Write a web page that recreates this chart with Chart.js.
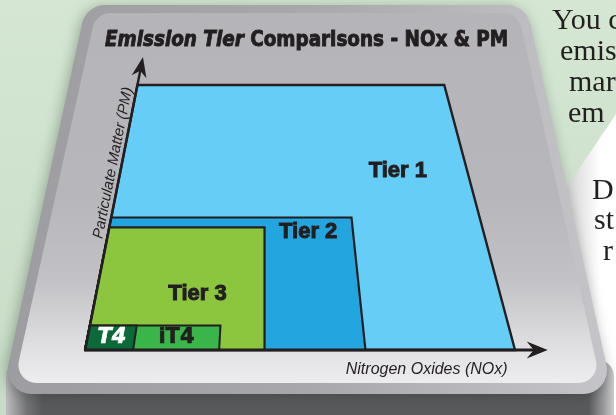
<!DOCTYPE html>
<html>
<head>
<meta charset="utf-8">
<title>Emission Tier Comparisons - NOx &amp; PM</title>
<script src="https://cdn.jsdelivr.net/npm/chart.js@4.4.1/dist/chart.umd.min.js"></script>
<style>
  html, body { margin: 0; padding: 0; background: #cfe3ce; overflow: hidden; }
  #chart { display: block; }
</style>
</head>
<body>
<canvas id="chart" width="616" height="415"></canvas>
<script>
// --- données (unités arbitraires) ---
const tiers = ["Tier 1", "Tier 2", "Tier 3", "iT4", "T4"];
const noxLimits = [9.2, 6.0, 3.83, 2.87, 1.03];
const pmLimits = [0.54, 0.27, 0.25, 0.05, 0.05];
const titleItalic = "Emission Tier";
const titleRest = "Comparisons - NOx & PM";
const xAxisTitle = "Nitrogen Oxides (NOx)";
const yAxisTitle = "Particulate Matter (PM)";
const sideLines = ["You c", "emis", "mar", "em"];
const sideLines2 = ["D", "st", "r"];

// --- mise en page ---
const W = 616, H = 415;
const ORIGIN = { x: 85, y: 350 };        // pixel of NOx=0, PM=0
const PX_PER_NOX = 46.74;
const PX_PER_PM = 490.7;
const VANISH = { nox: 3.915, pm: 1.885 }; // point de fuite (perspective)
const NOX_AXIS_END = 9.9;
const PM_AXIS_END = 0.597;

const tierStyle = [
  { fill: "#66cdf6", border: 2.4, label: [7.36, 0.365], font: 'bold 22px "Liberation Sans", Arial', color: "#231f20", stroke: 1 },
  { fill: "#23a6df", border: 2.2, label: [4.9, 0.24], font: 'bold 22px "Liberation Sans", Arial', color: "#231f20", stroke: 1 },
  { fill: "#8cc63f", border: 2.2, label: [2.31, 0.114], font: 'bold 22px "Liberation Sans", Arial', color: "#231f20", stroke: 1 },
  { fill: "#3ab54a", border: 2, label: [1.93, 0.026], font: 'bold 21px "DejaVu Sans"', color: "#231f20", stroke: 0.6 },
  { fill: "#0b6a38", border: 2, label: [0.53, 0.025], font: 'italic bold 21px "DejaVu Sans"', color: "#ffffff", stroke: 0.6 }
];

// projection en perspective (un point de fuite), en unités de données
function project(nox, pm) {
  const f = (VANISH.pm - pm) / VANISH.pm;
  return { x: VANISH.nox + (nox - VANISH.nox) * f, y: pm };
}

function boxPoints(nox, pm) {
  return [[0, 0], [nox, 0], [nox, pm], [0, pm], [0, 0]].map(p => project(p[0], p[1]));
}

function roundedQuad(ctx, pts, r) {
  const n = pts.length;
  const s = [(pts[n - 1][0] + pts[0][0]) / 2, (pts[n - 1][1] + pts[0][1]) / 2];
  ctx.beginPath();
  ctx.moveTo(s[0], s[1]);
  for (let i = 0; i < n; i++) {
    const p = pts[i], q = pts[(i + 1) % n];
    ctx.arcTo(p[0], p[1], q[0], q[1], r);
  }
  ctx.closePath();
}

// fond : papier vert, page blanche, socle gris, titre
const backdrop = {
  id: "backdrop",
  beforeDraw(chart) {
    const ctx = chart.ctx;
    ctx.save();

    let g = ctx.createLinearGradient(0, 0, 0, H);
    g.addColorStop(0, "#d5e7d3");
    g.addColorStop(1, "#c7dcc6");
    ctx.fillStyle = g;
    ctx.fillRect(0, 0, W, H);

    // page blanche à droite, ombrée le long du socle
    g = ctx.createLinearGradient(566, 0, 600, 0);
    g.addColorStop(0, "#d2d2d2");
    g.addColorStop(1, "#ffffff");
    ctx.fillStyle = g;
    ctx.beginPath();
    ctx.moveTo(616, 114);
    ctx.lineTo(556, 203);
    ctx.lineTo(556, 415);
    ctx.lineTo(616, 415);
    ctx.closePath();
    ctx.fill();

    // texte de l'article (coupé au bord)
    ctx.fillStyle = "#231f20";
    ctx.font = '30px "Liberation Serif", serif';
    ctx.textBaseline = "alphabetic";
    const xs = [552, 560, 569, 568], ys = [29, 60, 91, 122];
    sideLines.forEach((t, i) => ctx.fillText(t, xs[i], ys[i]));
    const xs2 = [592, 594, 603], ys2 = [199, 229, 260];
    sideLines2.forEach((t, i) => ctx.fillText(t, xs2[i], ys2[i]));

    // face avant du socle
    g = ctx.createLinearGradient(6, 0, 616, 0);
    g.addColorStop(0, "#bdbdc0");
    g.addColorStop(0.035, "#727274");
    g.addColorStop(0.06, "#58595b");
    g.addColorStop(0.955, "#58595b");
    g.addColorStop(0.98, "#9a9a9d");
    g.addColorStop(1, "#d6d6d8");
    ctx.fillStyle = g;
    roundedQuad(ctx, [[6, 360], [614, 360], [614, 445], [6, 445]], 16);
    ctx.fill();

    // socle (biseau) avec ombre
    ctx.save();
    ctx.shadowColor = "rgba(30,50,30,0.35)";
    ctx.shadowBlur = 14;
    ctx.shadowOffsetX = -2;
    ctx.shadowOffsetY = 2;
    g = ctx.createLinearGradient(0, 0, W, 0);
    g.addColorStop(0, "#9c9ca1");
    g.addColorStop(0.5, "#a7a7ac");
    g.addColorStop(1, "#c6c6ca");
    ctx.fillStyle = g;
    roundedQuad(ctx, [[86, 5], [526, 5], [613, 394], [2, 394]], 24);
    ctx.fill();
    ctx.restore();

    // face supérieure
    g = ctx.createLinearGradient(0, 13, 0, 383);
    g.addColorStop(0, "#b4b4b9");
    g.addColorStop(0.5, "#b6b6bb");
    g.addColorStop(0.72, "#c2c2c6");
    g.addColorStop(0.88, "#dcdcdf");
    g.addColorStop(1, "#ededef");
    ctx.fillStyle = g;
    roundedQuad(ctx, [[96, 13], [518, 13], [601, 383], [14, 383]], 18);
    ctx.fill();

    // titre
    const f1 = 'italic bold 22px "DejaVu Sans Condensed", "DejaVu Sans"';
    const f2 = 'bold 22px "DejaVu Sans Condensed", "DejaVu Sans"';
    ctx.font = f1;
    const w1 = ctx.measureText(titleItalic + " ").width;
    ctx.font = f2;
    const w2 = ctx.measureText(titleRest).width;
    const k = 403 / (w1 + w2);
    ctx.translate(105, 45.7);
    ctx.scale(k, 1);
    ctx.fillStyle = "#231f20";
    ctx.strokeStyle = "#231f20";
    ctx.lineWidth = 0.9;
    ctx.font = f1;
    ctx.fillText(titleItalic + " ", 0, 0);
    ctx.strokeText(titleItalic + " ", 0, 0);
    ctx.font = f2;
    ctx.fillText(titleRest, w1, 0);
    ctx.strokeText(titleRest, w1, 0);

    ctx.restore();
  }
};

function arrowHead(ctx, tip, u, len, hw, notch) {
  const n = [-u[1], u[0]];
  ctx.beginPath();
  ctx.moveTo(tip[0], tip[1]);
  ctx.lineTo(tip[0] - u[0] * len + n[0] * hw, tip[1] - u[1] * len + n[1] * hw);
  ctx.lineTo(tip[0] - u[0] * (len - notch), tip[1] - u[1] * (len - notch));
  ctx.lineTo(tip[0] - u[0] * len - n[0] * hw, tip[1] - u[1] * len - n[1] * hw);
  ctx.closePath();
  ctx.fill();
}

// axes, flèches et étiquettes
const overlay = {
  id: "overlay",
  afterDatasetsDraw(chart) {
    const { ctx, scales: { x, y } } = chart;
    const px = (nox, pm) => {
      const p = project(nox, pm);
      return [x.getPixelForValue(p.x), y.getPixelForValue(p.y)];
    };
    ctx.save();
    ctx.strokeStyle = "#231f20";
    ctx.fillStyle = "#231f20";

    const o = px(0, 0);
    const xe = px(NOX_AXIS_END, 0);
    const ye = px(0, PM_AXIS_END);

    // axe des NOx
    ctx.lineWidth = 3;
    ctx.beginPath();
    ctx.moveTo(o[0] - 1, o[1]);
    ctx.lineTo(xe[0] - 12, xe[1]);
    ctx.stroke();
    arrowHead(ctx, xe, [1, 0], 21, 8.5, 7);

    // axe des PM
    const dx = ye[0] - o[0], dy = ye[1] - o[1];
    const len = Math.hypot(dx, dy);
    const u = [dx / len, dy / len];
    ctx.lineWidth = 2.4;
    ctx.beginPath();
    ctx.moveTo(o[0], o[1] + 1);
    ctx.lineTo(ye[0] - u[0] * 12, ye[1] - u[1] * 12);
    ctx.stroke();
    arrowHead(ctx, ye, u, 20, 7.5, 6);

    // étiquettes des niveaux
    ctx.textAlign = "center";
    ctx.textBaseline = "middle";
    tiers.forEach((name, i) => {
      const s = tierStyle[i];
      const p = px(s.label[0], s.label[1]);
      ctx.font = s.font;
      ctx.fillStyle = s.color;
      ctx.strokeStyle = s.color;
      ctx.lineWidth = s.stroke;
      ctx.fillText(name, p[0], p[1]);
      ctx.strokeText(name, p[0], p[1]);
    });

    // titres des axes
    ctx.fillStyle = "#231f20";
    ctx.font = 'italic 16px "Liberation Sans", Arial';
    ctx.textAlign = "center";
    ctx.textBaseline = "alphabetic";
    ctx.fillText(xAxisTitle, x.getPixelForValue(7.31), y.getPixelForValue(-0.049));

    const m = px(0, 0.378);
    const nrm = [u[1], -u[0]];
    ctx.translate(m[0] + nrm[0] * 4.5, m[1] + nrm[1] * 4.5);
    ctx.rotate(Math.atan2(dy, dx));
    ctx.font = 'italic 15px "Liberation Sans", Arial';
    ctx.fillText(yAxisTitle, 0, 0);
    ctx.restore();
  }
};

document.addEventListener("DOMContentLoaded", () => {
  const ctx = document.getElementById("chart").getContext("2d");

  new Chart(ctx, {
    type: "line",
    data: {
      datasets: tiers.map((name, i) => ({
        label: name,
        data: boxPoints(noxLimits[i], pmLimits[i]),
        fill: "shape",
        backgroundColor: tierStyle[i].fill,
        borderColor: "#231f20",
        borderWidth: tierStyle[i].border,
        borderJoinStyle: "miter",
        pointRadius: 0,
        tension: 0,
        order: tiers.length - i
      }))
    },
    options: {
      responsive: false,
      animation: false,
      events: [],
      layout: { padding: 0 },
      scales: {
        x: {
          type: "linear",
          display: false,
          min: -ORIGIN.x / PX_PER_NOX,
          max: (W - ORIGIN.x) / PX_PER_NOX
        },
        y: {
          type: "linear",
          display: false,
          min: -(H - ORIGIN.y) / PX_PER_PM,
          max: ORIGIN.y / PX_PER_PM
        }
      },
      plugins: {
        legend: { display: false },
        tooltip: { enabled: false },
        title: { display: false }
      }
    },
    plugins: [backdrop, overlay]
  });
});
</script>
</body>
</html>
